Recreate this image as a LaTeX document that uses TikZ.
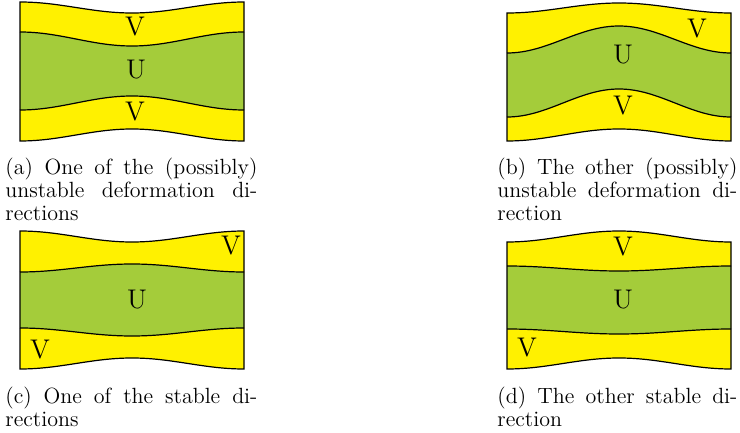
\documentclass[tikz,border=0pt]{standalone}
\usepackage{xcolor}
\usepackage{tikz}
\hyphenation{di-rections di-rection}
\definecolor{bandyellow}{RGB}{255,241,0}
\definecolor{coregreen}{RGB}{164,204,58}
\tikzset{
  outline/.style={draw=black, line width=0.6pt},
  letter/.style={font=\fontsize{13.5}{14}\selectfont, inner sep=0pt},
  caption/.style={anchor=north west, inner sep=0pt, text width=120pt, align=justify,
                  font=\fontsize{11}{11.5}\selectfont}
}
% one wave across a panel (left x, y at the sides, y in the middle)
\newcommand{\waveLR}[3]{(#1,#2) cos ({#1+56},{(#2+#3)/2}) sin ({#1+112},#3)
  cos ({#1+168},{(#2+#3)/2}) sin ({#1+224},#2)}
\newcommand{\waveRL}[3]{({#1+224},#2) cos ({#1+168},{(#2+#3)/2}) sin ({#1+112},#3)
  cos ({#1+56},{(#2+#3)/2}) sin (#1,#2)}
% V / U / V strip: left x, then side/middle y of top, upper line, lower line, bottom
\newcommand{\bandpanel}[9]{
  \fill[bandyellow] \waveLR{#1}{#2}{#3} -- \waveRL{#1}{#8}{#9} -- cycle;
  \fill[coregreen] \waveLR{#1}{#4}{#5} -- \waveRL{#1}{#6}{#7} -- cycle;
  \draw[outline] \waveLR{#1}{#2}{#3} -- \waveRL{#1}{#8}{#9} -- cycle;
  \draw[outline] \waveLR{#1}{#4}{#5};
  \draw[outline] \waveLR{#1}{#6}{#7};
}

\begin{document}
\begin{tikzpicture}[x=0.5pt, y=-0.5pt]
  \useasboundingbox (0,0) rectangle (740,433);

  % upper row
  \bandpanel{20}{2}{13}{32}{46}{110}{96}{141}{129}
  \bandpanel{507}{13}{3}{53}{26}{117}{89}{141}{129}
  % lower row
  \bandpanel{20}{231}{242}{272}{264}{328}{336}{369}{358}
  \bandpanel{507}{242}{231}{266}{271}{329}{334}{369}{358}

  % labels
  \node[letter] (vtopA) at (135,27) {V};
  \node[letter] (uA) at (136,70) {U};
  \node[letter] (vbotA) at (135,112) {V};
  \node[letter] (vtopB) at (697,29) {V};
  \node[letter] (uB) at (623,55) {U};
  \node[letter] (vbotB) at (623,106) {V};
  \node[letter] (vtopC) at (231,246) {V};
  \node[letter] (uC) at (137,300) {U};
  \node[letter] (vbotC) at (40,350) {V};
  \node[letter] (vtopD) at (623,247) {V};
  \node[letter] (uD) at (623,300) {U};
  \node[letter] (vbotD) at (527,348) {V};

  % captions
  \node[caption, text width=126pt] (capA) at (5,158) {(a) One of the (possibly) unstable deformation directions};
  \node[caption] (capB) at (497,158) {(b) The other (possibly) unstable deformation direction};
  \node[caption, text width=126pt] (capC) at (5,387) {(c) One of the stable directions};
  \node[caption] (capD) at (497,387) {(d) The other stable direction};
\end{tikzpicture}
\end{document}
